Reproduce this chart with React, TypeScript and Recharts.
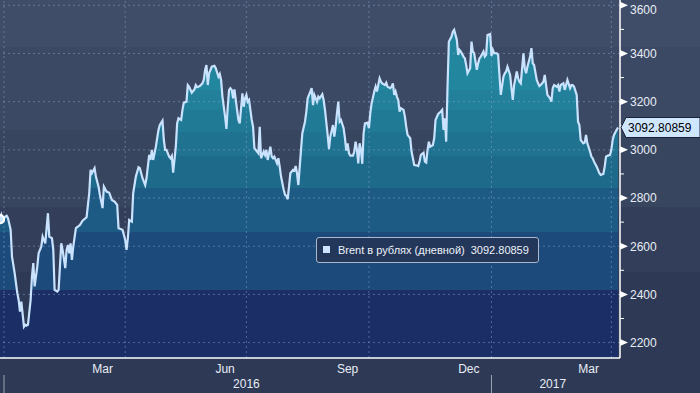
import React from 'react';
import { ComposedChart, Area, Line, XAxis, YAxis, ReferenceLine } from 'recharts';

// Day offsets from 2016-01-01 (calendar days) and Brent price in rubles
const dayOffsets = [
  -3, -2, -1, 1, 2, 3, 5, 6, 7, 8, 10, 11, 12, 13, 15, 16, 17, 18, 20, 21, 22, 23, 25, 26, 28, 29, 31, 32, 33, 34,
  36, 37, 38, 40, 41, 43, 44, 46, 47, 48, 49, 50, 51, 52, 54, 57, 59, 62, 64, 65, 66, 68, 69, 71, 72, 74, 75, 77, 79, 81,
  83, 85, 86, 89, 91, 92, 93, 94, 96, 97, 99, 101, 102, 104, 106, 107, 109, 110, 111, 112, 114, 116, 117, 119, 120, 121, 122, 124, 125, 126,
  127, 129, 130, 131, 133, 134, 135, 137, 138, 139, 141, 143, 144, 145, 147, 149, 150, 151, 152, 153, 154, 156, 158, 159, 161, 162, 163, 164, 166, 167,
  168, 169, 170, 171, 172, 173, 175, 176, 177, 179, 180, 181, 182, 183, 184, 186, 187, 188, 190, 191, 192, 193, 195, 196, 197, 198, 200, 201, 202, 203,
  205, 206, 207, 208, 210, 211, 212, 213, 214, 215, 217, 218, 219, 220, 221, 223, 224, 226, 227, 228, 230, 231, 232, 233, 235, 236, 237, 239, 240, 241,
  243, 244, 245, 247, 248, 249, 250, 251, 252, 253, 255, 256, 257, 258, 259, 260, 262, 263, 264, 265, 266, 267, 268, 269, 270, 271, 273, 274, 275, 276,
  278, 279, 280, 281, 282, 283, 284, 286, 287, 288, 290, 291, 292, 293, 294, 295, 296, 297, 298, 300, 301, 302, 303, 305, 306, 307, 308, 310, 311, 312,
  313, 315, 316, 317, 318, 319, 320, 322, 323, 324, 326, 328, 329, 330, 331, 332, 333, 334, 336, 337, 338, 340, 341, 342, 343, 345, 346, 347, 348, 350,
  351, 352, 353, 355, 356, 357, 358, 360, 361, 362, 363, 365, 366, 367, 368, 370, 371, 372, 373, 375, 376, 377, 378, 380, 381, 382, 383, 385, 386, 387,
  388, 390, 391, 392, 393, 395, 396, 397, 398, 400, 401, 402, 403, 405, 406, 407, 408, 410, 411, 412, 413, 415, 416, 417, 418, 420, 421, 422, 423, 425,
  426, 427, 428, 430, 431, 432, 433, 435, 436, 437, 438, 440, 441, 442, 443, 445, 446, 447, 448, 450, 451, 452, 453, 455, 456, 457, 458, 460, 461,
];

const brentRub = [
  2712, 2730, 2709, 2723, 2726, 2716, 2668, 2557, 2523, 2488, 2405, 2377, 2329, 2370, 2266, 2274, 2270, 2274, 2377, 2474, 2530, 2433, 2515, 2571, 2598, 2640, 2612, 2675, 2737, 2640,
  2633, 2585, 2419, 2412, 2419, 2612, 2585, 2509, 2585, 2605, 2571, 2612, 2543, 2598, 2675, 2688, 2706, 2720, 2820, 2917, 2903, 2924, 2889, 2847, 2813, 2758, 2847, 2827, 2822, 2792,
  2785, 2771, 2675, 2668, 2626, 2585, 2633, 2709, 2702, 2820, 2889, 2928, 2924, 2882, 2854, 2882, 2979, 2958, 3000, 2958, 3013, 3083, 3103, 3121, 3041, 3000, 3000, 2972, 2965, 2975,
  2905, 3013, 3110, 3131, 3124, 3166, 3196, 3200, 3269, 3262, 3237, 3251, 3269, 3260, 3265, 3276, 3290, 3332, 3352, 3269, 3318, 3345, 3349, 3339, 3304, 3315, 3290, 3221, 3138, 3087,
  3179, 3249, 3256, 3249, 3214, 3251, 3166, 3124, 3110, 3235, 3179, 3214, 3228, 3200, 3207, 3124, 3096, 3007, 2993, 2986, 3096, 2965, 2993, 2979, 3000, 2958, 3013, 2972, 2965, 2972,
  2944, 2965, 2930, 2889, 2834, 2813, 2809, 2795, 2847, 2903, 2917, 2914, 2933, 2903, 2854, 3000, 3069, 3117, 3159, 3214, 3242, 3256, 3186, 3228, 3200, 3221, 3214, 3231, 3207, 3166,
  3062, 3003, 3055, 3103, 3055, 3096, 3152, 3200, 3117, 3124, 3090, 3048, 2997, 3027, 2986, 2976, 2976, 2993, 3034, 3000, 2944, 3027, 3000, 2942, 3069, 3110, 3113, 3090, 3152, 3193,
  3242, 3262, 3242, 3269, 3297, 3283, 3276, 3269, 3279, 3262, 3256, 3262, 3276, 3228, 3242, 3221, 3207, 3159, 3173, 3166, 3138, 3096, 3062, 3048, 2993, 2965, 2937, 2935, 2933, 2951,
  2979, 2988, 2951, 2947, 3000, 3034, 3013, 3020, 3048, 3124, 3149, 3159, 3166, 3083, 3131, 3034, 3262, 3449, 3470, 3490, 3498, 3456, 3394, 3415, 3408, 3387, 3380, 3352, 3318, 3339,
  3449, 3408, 3401, 3332, 3359, 3380, 3387, 3408, 3387, 3394, 3477, 3481, 3390, 3415, 3401, 3401, 3394, 3311, 3228, 3304, 3318, 3325, 3345, 3311, 3256, 3207, 3269, 3325, 3297, 3283,
  3276, 3401, 3339, 3318, 3345, 3387, 3422, 3359, 3352, 3290, 3276, 3265, 3269, 3283, 3311, 3269, 3228, 3214, 3200, 3256, 3269, 3262, 3269, 3242, 3269, 3276, 3249, 3269, 3290, 3256,
  3269, 3269, 3262, 3228, 3117, 3103, 3041, 3027, 3030, 3062, 3027, 2993, 2972, 2965, 2951, 2930, 2917, 2903, 2896, 2900, 2930, 2972, 2975, 2979, 3000, 3041, 3062, 3083, 3092.80859,
];

const SERIES_NAME = 'Brent в рублях (дневной)';
const LAST_VALUE = 3092.80859;
const LAST_LABEL = '3092.80859';

const monthStartDays = [0, 31, 60, 91, 121, 152, 182, 213, 244, 274, 305, 335, 366, 397, 425, 456];
const quarterStartDays = [0, 91, 182, 274, 366, 456];
const monthLabelDays = [74, 166, 258, 349, 439];
const monthLabels = ['Mar', 'Jun', 'Sep', 'Dec', 'Mar'];
const yearStartDays = [0, 366];
const yearLabelDays = [182, 412];
const yearLabels = ['2016', '2017'];
const yMajorTicks = [2200, 2400, 2600, 2800, 3000, 3200, 3400, 3600];
const yMinorTicks = [2300, 2500, 2700, 2900, 3100, 3300, 3500];

const data = dayOffsets.map((d, i) => ({ d, v: brentRub[i] }));

const X_DOMAIN: [number, number] = [-3, 462.5];
const Y_DOMAIN: [number, number] = [2136, 3622];
const FONT = '"Liberation Sans", Arial, sans-serif';
const TEXT = '#e8edf5';
const GRID = 'rgba(135,165,205,0.5)';

const MonthTick = (props: any) => {
  const { x, y, payload } = props;
  const idx = monthLabelDays.indexOf(payload.value);
  return (
    <text x={x} y={y + 9.5} textAnchor="middle" fill={TEXT} fontSize={12} fontFamily={FONT}>
      {monthLabels[idx]}
    </text>
  );
};

const YearTick = (props: any) => {
  const { x, y, payload } = props;
  if (yearStartDays.includes(payload.value)) {
    return <line x1={x} x2={x} y1={y - 2} y2={y + 16} stroke="#9aa3b5" strokeWidth={1} />;
  }
  const idx = yearLabelDays.indexOf(payload.value);
  return (
    <text x={x} y={y + 11} textAnchor="middle" fill={TEXT} fontSize={12} fontFamily={FONT}>
      {yearLabels[idx]}
    </text>
  );
};

const YTick = (props: any) => {
  const { x, y, payload } = props;
  const v = payload.value;
  if (v === LAST_VALUE) {
    return (
      <g>
        <polygon
          points={`${x + 1},${y} ${x + 6},${y - 10} ${x + 80},${y - 10} ${x + 80},${y + 10} ${x + 6},${y + 10}`}
          fill="#cfe6ff"
          stroke="#1b2236"
          strokeWidth={1}
        />
        <text x={x + 8} y={y} dy="0.36em" fill="#000" fontSize={12} fontFamily={FONT}>
          {LAST_LABEL}
        </text>
      </g>
    );
  }
  if (yMinorTicks.includes(v)) {
    return <line x1={x} x2={x + 4} y1={y} y2={y} stroke="#ffffff" strokeWidth={1} />;
  }
  return (
    <g>
      <polygon points={`${x},${y - 3.5} ${x + 8},${y} ${x},${y + 3.5}`} fill="#ffffff" />
      <text x={x + 10} y={Math.max(y, 10)} dy="0.36em" fill={TEXT} fontSize={12} fontFamily={FONT}>
        {v}
      </text>
    </g>
  );
};

const bandStops: [number, string][] = [
  [0, '#23869f'],
  [0.251, '#22809b'],
  [0.307, '#207a96'],
  [0.368, '#1f7290'],
  [0.437, '#1e6a8b'],
  [0.525, '#1d5b85'],
  [0.647, '#1c4a7b'],
  [0.81, '#1b2e66'],
];

export default function App() {
  const stops: React.ReactNode[] = [];
  bandStops.forEach(([o, c], i) => {
    const next = i + 1 < bandStops.length ? bandStops[i + 1][0] : 1;
    stops.push(<stop key={`a${i}`} offset={o} stopColor={c} />);
    stops.push(<stop key={`b${i}`} offset={next} stopColor={c} />);
  });

  return (
    <div
      style={{
        position: 'absolute',
        left: 0,
        top: 0,
        width: 700,
        height: 393,
        overflow: 'hidden',
        background:
          'linear-gradient(to bottom, #404d69 0px, #404d69 47px, #3c4965 47px, #3c4965 130px, #38455f 130px, #38455f 207px, #333f5a 207px, #333f5a 272px, #2e3a55 272px, #2e3a55 393px)',
      }}
    >
      <ComposedChart width={700} height={393} data={data} margin={{ top: 0, right: 0, bottom: 0, left: 0 }}>
        <defs>
          <linearGradient id="bands" x1="0" y1="0" x2="0" y2="358" gradientUnits="userSpaceOnUse">
            {stops}
          </linearGradient>
        </defs>
        <XAxis
          xAxisId="main"
          dataKey="d"
          type="number"
          domain={X_DOMAIN}
          allowDataOverflow
          ticks={monthStartDays}
          interval={0}
          tick={false}
          tickSize={5}
          height={5}
          axisLine={{ stroke: '#ffffff', strokeWidth: 1.5 }}
          tickLine={{ stroke: '#ffffff', strokeWidth: 1 }}
        />
        <XAxis
          xAxisId="month"
          dataKey="d"
          type="number"
          domain={X_DOMAIN}
          allowDataOverflow
          ticks={monthLabelDays}
          interval={0}
          tick={<MonthTick />}
          tickSize={0}
          tickMargin={0}
          height={14}
          axisLine={false}
          tickLine={false}
        />
        <XAxis
          xAxisId="year"
          dataKey="d"
          type="number"
          domain={X_DOMAIN}
          allowDataOverflow
          ticks={[...yearStartDays, ...yearLabelDays]}
          interval={0}
          tick={<YearTick />}
          tickSize={0}
          tickMargin={0}
          height={16}
          axisLine={false}
          tickLine={false}
        />
        <YAxis
          yAxisId="v"
          orientation="right"
          type="number"
          domain={Y_DOMAIN}
          allowDataOverflow
          ticks={[...yMinorTicks, ...yMajorTicks, LAST_VALUE]}
          interval={0}
          width={80}
          tick={<YTick />}
          tickSize={0}
          tickMargin={0}
          tickLine={false}
          axisLine={{ stroke: '#ffffff', strokeWidth: 1.5 }}
        />
        <Area
          xAxisId="main"
          yAxisId="v"
          dataKey="v"
          type="linear"
          stroke="none"
          fill="url(#bands)"
          fillOpacity={1}
          isAnimationActive={false}
        />
        {yMajorTicks.map((t) => (
          <ReferenceLine
            key={`h${t}`}
            xAxisId="main"
            yAxisId="v"
            y={t}
            stroke={GRID}
            strokeDasharray="2 3"
            strokeWidth={1}
          />
        ))}
        {quarterStartDays.map((t) => (
          <ReferenceLine
            key={`v${t}`}
            xAxisId="main"
            yAxisId="v"
            x={t}
            stroke={GRID}
            strokeDasharray="2 3"
            strokeWidth={1}
          />
        ))}
        <Line
          xAxisId="main"
          yAxisId="v"
          dataKey="v"
          name={SERIES_NAME}
          type="linear"
          stroke="#c9e3ff"
          strokeWidth={2.2}
          dot={false}
          isAnimationActive={false}
        />
      </ComposedChart>
      <div
        style={{
          position: 'absolute',
          left: 316,
          top: 237,
          width: 223,
          height: 26,
          boxSizing: 'border-box',
          border: '1px solid #aab8cc',
          borderRadius: 3,
          background: '#23375b',
          fontFamily: FONT,
          fontSize: 11,
          color: '#eef2f8',
          whiteSpace: 'nowrap',
        }}
      >
        <div style={{ position: 'absolute', left: 6, top: 8, width: 7, height: 7, background: '#cfe4ff' }} />
        <div style={{ position: 'absolute', left: 21, top: 5, lineHeight: '14px' }}>
          {SERIES_NAME}
          <span style={{ marginLeft: 6 }}>{LAST_LABEL}</span>
        </div>
      </div>
    </div>
  );
}
